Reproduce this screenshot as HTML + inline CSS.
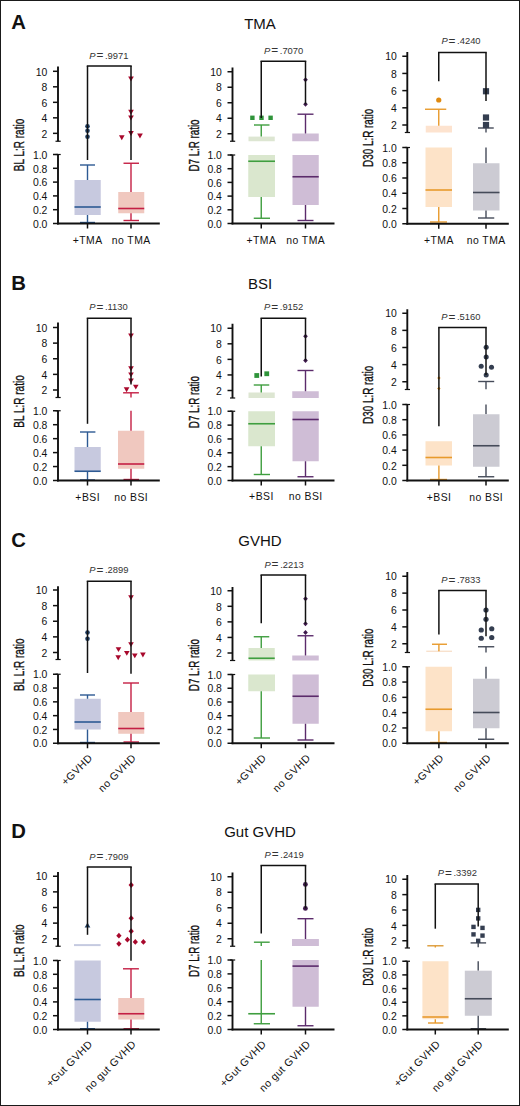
<!DOCTYPE html>
<html><head><meta charset="utf-8"><style>
html,body{margin:0;padding:0;background:#fff;}
svg{display:block;}
text{font-family:"Liberation Sans", sans-serif;}
</style></head><body>
<svg width="520" height="1106" viewBox="0 0 520 1106">
<rect x="0" y="0" width="520" height="1106" fill="#fff"/>
<text x="11.3" y="29" font-size="20.3" font-weight="bold" fill="#111">A</text>
<text x="260" y="28.6" font-size="15" text-anchor="middle" fill="#111">TMA</text>
<text x="11.3" y="289.5" font-size="20.3" font-weight="bold" fill="#111">B</text>
<text x="260" y="289.3" font-size="15" text-anchor="middle" fill="#111">BSI</text>
<text x="11.3" y="546.8" font-size="20.3" font-weight="bold" fill="#111">C</text>
<text x="260" y="546.3" font-size="15" text-anchor="middle" fill="#111">GVHD</text>
<text x="11.3" y="837.8" font-size="20.3" font-weight="bold" fill="#111">D</text>
<text x="260" y="836.9" font-size="15" text-anchor="middle" fill="#111">Gut GVHD</text>
<rect x="74.5" y="180" width="26.25" height="35.00" fill="#c7c9df"/>
<line x1="87.5" y1="165" x2="87.5" y2="180" stroke="#2d5a93" stroke-width="1.4"/>
<line x1="87.5" y1="215" x2="87.5" y2="222.5" stroke="#2d5a93" stroke-width="1.4"/>
<line x1="74.5" y1="207" x2="100.75" y2="207" stroke="#2d5a93" stroke-width="1.6"/>
<line x1="80" y1="165" x2="95" y2="165" stroke="#2d5a93" stroke-width="1.4"/>
<line x1="80" y1="222.5" x2="95" y2="222.5" stroke="#2d5a93" stroke-width="1.4"/>
<rect x="118.25" y="192" width="26.00" height="21.25" fill="#f0c8bf"/>
<line x1="131" y1="163.25" x2="131" y2="192" stroke="#c41f44" stroke-width="1.4"/>
<line x1="131" y1="213.25" x2="131" y2="220.5" stroke="#c41f44" stroke-width="1.4"/>
<line x1="118.25" y1="208.5" x2="144.25" y2="208.5" stroke="#c41f44" stroke-width="1.6"/>
<line x1="123.5" y1="163.25" x2="139" y2="163.25" stroke="#c41f44" stroke-width="1.4"/>
<line x1="123.5" y1="220.5" x2="139" y2="220.5" stroke="#c41f44" stroke-width="1.4"/>
<line x1="58" y1="66.5" x2="58" y2="141.25" stroke="#111" stroke-width="1.9"/>
<line x1="55.5" y1="141.25" x2="60.7" y2="141.25" stroke="#111" stroke-width="1.2"/>
<line x1="53" y1="71.3" x2="58" y2="71.3" stroke="#111" stroke-width="1.5"/>
<text x="47.4" y="75.5" font-size="10.4" text-anchor="end" fill="#111">10</text>
<line x1="53" y1="86.8125" x2="58" y2="86.8125" stroke="#111" stroke-width="1.5"/>
<text x="47.4" y="91.0125" font-size="10.4" text-anchor="end" fill="#111">8</text>
<line x1="53" y1="102.32499999999999" x2="58" y2="102.32499999999999" stroke="#111" stroke-width="1.5"/>
<text x="47.4" y="106.52499999999999" font-size="10.4" text-anchor="end" fill="#111">6</text>
<line x1="53" y1="117.83749999999999" x2="58" y2="117.83749999999999" stroke="#111" stroke-width="1.5"/>
<text x="47.4" y="122.0375" font-size="10.4" text-anchor="end" fill="#111">4</text>
<line x1="53" y1="133.35" x2="58" y2="133.35" stroke="#111" stroke-width="1.5"/>
<text x="47.4" y="137.54999999999998" font-size="10.4" text-anchor="end" fill="#111">2</text>
<line x1="58" y1="154.5" x2="58" y2="224.4" stroke="#111" stroke-width="1.9"/>
<line x1="55.5" y1="154.5" x2="60.7" y2="154.5" stroke="#111" stroke-width="1.2"/>
<line x1="53" y1="154.5" x2="58" y2="154.5" stroke="#111" stroke-width="1.5"/>
<text x="47.4" y="158.7" font-size="10.4" text-anchor="end" fill="#111">1.0</text>
<line x1="53" y1="168.3" x2="58" y2="168.3" stroke="#111" stroke-width="1.5"/>
<text x="47.4" y="172.5" font-size="10.4" text-anchor="end" fill="#111">0.8</text>
<line x1="53" y1="182.1" x2="58" y2="182.1" stroke="#111" stroke-width="1.5"/>
<text x="47.4" y="186.29999999999998" font-size="10.4" text-anchor="end" fill="#111">0.6</text>
<line x1="53" y1="195.9" x2="58" y2="195.9" stroke="#111" stroke-width="1.5"/>
<text x="47.4" y="200.1" font-size="10.4" text-anchor="end" fill="#111">0.4</text>
<line x1="53" y1="209.7" x2="58" y2="209.7" stroke="#111" stroke-width="1.5"/>
<text x="47.4" y="213.89999999999998" font-size="10.4" text-anchor="end" fill="#111">0.2</text>
<line x1="53" y1="223.5" x2="58" y2="223.5" stroke="#111" stroke-width="1.5"/>
<text x="47.4" y="227.7" font-size="10.4" text-anchor="end" fill="#111">0.0</text>
<line x1="57.1" y1="223.5" x2="159.8" y2="223.5" stroke="#111" stroke-width="1.9"/>
<line x1="87.5" y1="223.5" x2="87.5" y2="228.5" stroke="#111" stroke-width="1.5"/>
<line x1="131" y1="223.5" x2="131" y2="228.5" stroke="#111" stroke-width="1.5"/>
<text transform="translate(24,145.0) rotate(-90)" font-size="15" text-anchor="middle" textLength="52.5" lengthAdjust="spacingAndGlyphs" fill="#111" stroke="#111" stroke-width="0.35">BL L:R ratio</text>
<text x="89.30" y="58.9" font-size="9.4" fill="#333"><tspan font-style="italic">P</tspan><tspan font-size="11" dx="1.1" dy="0.55" stroke="#333" stroke-width="0.25">=</tspan><tspan dx="1.9" dy="-0.55">.9971</tspan></text>
<text transform="translate(87.7,244.4) scale(1.03,1)" font-size="10.1" letter-spacing="0.45" text-anchor="middle" fill="#111">+TMA</text>
<text transform="translate(131.2,244.4) scale(1.03,1)" font-size="10.1" letter-spacing="0.45" text-anchor="middle" fill="#111">no TMA</text>
<circle cx="87.5" cy="126.3" r="2.31" fill="#1c3d63"/>
<circle cx="87.5" cy="130.8" r="2.31" fill="#1c3d63"/>
<circle cx="87.5" cy="136.8" r="2.31" fill="#1c3d63"/>
<path d="M128.18 76.59L133.82 76.59L131 81.50Z" fill="#a8082c"/>
<path d="M128.18 109.80L133.82 109.80L131 114.69Z" fill="#a8082c"/>
<path d="M128.18 115.59L133.82 115.59L131 120.50Z" fill="#a8082c"/>
<path d="M128.18 131.09L133.82 131.09L131 136.00Z" fill="#a8082c"/>
<path d="M118.98 135.29L124.62 135.29L121.8 140.19Z" fill="#a8082c"/>
<path d="M137.18 133.59L142.82 133.59L140 138.50Z" fill="#a8082c"/>
<line x1="87.5" y1="65.9" x2="87.5" y2="160" stroke="#111" stroke-width="1.5"/>
<line x1="131" y1="65.9" x2="131" y2="160" stroke="#111" stroke-width="1.5"/>
<line x1="86.75" y1="65.9" x2="131.75" y2="65.9" stroke="#111" stroke-width="1.5"/>
<rect x="248.5" y="136.6" width="26.25" height="4.65" fill="#dde6d2"/>
<line x1="261.25" y1="125" x2="261.25" y2="136.6" stroke="#3f9e3f" stroke-width="1.4"/>
<line x1="254" y1="125" x2="269.5" y2="125" stroke="#3f9e3f" stroke-width="1.4"/>
<rect x="248.25" y="155" width="26.75" height="42.00" fill="#dae7ce"/>
<line x1="248.25" y1="161.25" x2="275" y2="161.25" stroke="#3f9e3f" stroke-width="1.6"/>
<line x1="261.25" y1="197" x2="261.25" y2="218.25" stroke="#3f9e3f" stroke-width="1.4"/>
<line x1="253.75" y1="218.25" x2="270" y2="218.25" stroke="#3f9e3f" stroke-width="1.4"/>
<rect x="292.25" y="133.5" width="26.50" height="7.75" fill="#cfbdd6"/>
<line x1="305.5" y1="114.2" x2="305.5" y2="133.5" stroke="#5b2b6b" stroke-width="1.4"/>
<line x1="297.5" y1="114.2" x2="313.5" y2="114.2" stroke="#5b2b6b" stroke-width="1.4"/>
<rect x="292.5" y="155" width="26.25" height="50.00" fill="#cfbdd6"/>
<line x1="292.5" y1="176.75" x2="318.75" y2="176.75" stroke="#5b2b6b" stroke-width="1.6"/>
<line x1="305.5" y1="205" x2="305.5" y2="220.5" stroke="#5b2b6b" stroke-width="1.4"/>
<line x1="297.5" y1="220.5" x2="313.5" y2="220.5" stroke="#5b2b6b" stroke-width="1.4"/>
<line x1="232.5" y1="67.5" x2="232.5" y2="141.25" stroke="#111" stroke-width="1.9"/>
<line x1="230.0" y1="141.25" x2="235.2" y2="141.25" stroke="#111" stroke-width="1.2"/>
<line x1="227.5" y1="71.75" x2="232.5" y2="71.75" stroke="#111" stroke-width="1.5"/>
<text x="221.9" y="75.95" font-size="10.4" text-anchor="end" fill="#111">10</text>
<line x1="227.5" y1="87.25" x2="232.5" y2="87.25" stroke="#111" stroke-width="1.5"/>
<text x="221.9" y="91.45" font-size="10.4" text-anchor="end" fill="#111">8</text>
<line x1="227.5" y1="102.75" x2="232.5" y2="102.75" stroke="#111" stroke-width="1.5"/>
<text x="221.9" y="106.95" font-size="10.4" text-anchor="end" fill="#111">6</text>
<line x1="227.5" y1="118.25" x2="232.5" y2="118.25" stroke="#111" stroke-width="1.5"/>
<text x="221.9" y="122.45" font-size="10.4" text-anchor="end" fill="#111">4</text>
<line x1="227.5" y1="133.75" x2="232.5" y2="133.75" stroke="#111" stroke-width="1.5"/>
<text x="221.9" y="137.95" font-size="10.4" text-anchor="end" fill="#111">2</text>
<line x1="232.5" y1="155" x2="232.5" y2="224.4" stroke="#111" stroke-width="1.9"/>
<line x1="230.0" y1="155" x2="235.2" y2="155" stroke="#111" stroke-width="1.2"/>
<line x1="227.5" y1="155.0" x2="232.5" y2="155.0" stroke="#111" stroke-width="1.5"/>
<text x="221.9" y="159.2" font-size="10.4" text-anchor="end" fill="#111">1.0</text>
<line x1="227.5" y1="168.7" x2="232.5" y2="168.7" stroke="#111" stroke-width="1.5"/>
<text x="221.9" y="172.89999999999998" font-size="10.4" text-anchor="end" fill="#111">0.8</text>
<line x1="227.5" y1="182.4" x2="232.5" y2="182.4" stroke="#111" stroke-width="1.5"/>
<text x="221.9" y="186.6" font-size="10.4" text-anchor="end" fill="#111">0.6</text>
<line x1="227.5" y1="196.1" x2="232.5" y2="196.1" stroke="#111" stroke-width="1.5"/>
<text x="221.9" y="200.29999999999998" font-size="10.4" text-anchor="end" fill="#111">0.4</text>
<line x1="227.5" y1="209.8" x2="232.5" y2="209.8" stroke="#111" stroke-width="1.5"/>
<text x="221.9" y="214.0" font-size="10.4" text-anchor="end" fill="#111">0.2</text>
<line x1="227.5" y1="223.5" x2="232.5" y2="223.5" stroke="#111" stroke-width="1.5"/>
<text x="221.9" y="227.7" font-size="10.4" text-anchor="end" fill="#111">0.0</text>
<line x1="231.6" y1="223.5" x2="334.5" y2="223.5" stroke="#111" stroke-width="1.9"/>
<line x1="261.25" y1="223.5" x2="261.25" y2="228.5" stroke="#111" stroke-width="1.5"/>
<line x1="305.5" y1="223.5" x2="305.5" y2="228.5" stroke="#111" stroke-width="1.5"/>
<text transform="translate(198.5,145.5) rotate(-90)" font-size="15" text-anchor="middle" textLength="52" lengthAdjust="spacingAndGlyphs" fill="#111" stroke="#111" stroke-width="0.35">D7 L:R ratio</text>
<text x="264.10" y="53.8" font-size="9.4" fill="#333"><tspan font-style="italic">P</tspan><tspan font-size="11" dx="1.1" dy="0.55" stroke="#333" stroke-width="0.25">=</tspan><tspan dx="1.9" dy="-0.55">.7070</tspan></text>
<text transform="translate(261.45,244.10000000000002) scale(1.03,1)" font-size="10.1" letter-spacing="0.45" text-anchor="middle" fill="#111">+TMA</text>
<text transform="translate(305.7,244.10000000000002) scale(1.03,1)" font-size="10.1" letter-spacing="0.45" text-anchor="middle" fill="#111">no TMA</text>
<rect x="250.20" y="115.60" width="4.4" height="4.4" fill="#2f943a"/>
<rect x="259.30" y="115.60" width="4.4" height="4.4" fill="#2f943a"/>
<rect x="268.40" y="115.60" width="4.4" height="4.4" fill="#2f943a"/>
<path d="M305.5 77.18L307.81 79.7L305.5 82.22L303.19 79.7Z" fill="#3f1a4d"/>
<path d="M305.5 101.78L307.81 104.3L305.5 106.82L303.19 104.3Z" fill="#3f1a4d"/>
<line x1="261.25" y1="61.25" x2="261.25" y2="118" stroke="#111" stroke-width="1.5"/>
<line x1="305.5" y1="61.25" x2="305.5" y2="104.3" stroke="#111" stroke-width="1.5"/>
<line x1="260.5" y1="61.25" x2="306.25" y2="61.25" stroke="#111" stroke-width="1.5"/>
<rect x="425.75" y="125.75" width="26.25" height="6.75" fill="#fde3cf"/>
<line x1="438.75" y1="109.25" x2="438.75" y2="125.75" stroke="#e89a2c" stroke-width="1.4"/>
<line x1="425" y1="109.25" x2="446.25" y2="109.25" stroke="#e89a2c" stroke-width="1.4"/>
<rect x="425.5" y="147.5" width="26.50" height="59.50" fill="#fde3c8"/>
<line x1="425.5" y1="190" x2="452" y2="190" stroke="#e89a2c" stroke-width="1.6"/>
<line x1="438.75" y1="207" x2="438.75" y2="222" stroke="#e89a2c" stroke-width="1.4"/>
<line x1="430" y1="222" x2="447" y2="222" stroke="#e89a2c" stroke-width="1.4"/>
<line x1="486" y1="128" x2="486" y2="132.5" stroke="#454b59" stroke-width="1.4"/>
<line x1="478" y1="128" x2="493.75" y2="128" stroke="#454b59" stroke-width="1.4"/>
<line x1="486" y1="147.5" x2="486" y2="163.25" stroke="#454b59" stroke-width="1.4"/>
<rect x="473" y="163.25" width="26.50" height="47.25" fill="#cccbd3"/>
<line x1="473" y1="192.5" x2="499.5" y2="192.5" stroke="#454b59" stroke-width="1.6"/>
<line x1="486" y1="210.5" x2="486" y2="218" stroke="#454b59" stroke-width="1.4"/>
<line x1="478" y1="218" x2="494.25" y2="218" stroke="#454b59" stroke-width="1.4"/>
<line x1="407.3" y1="52" x2="407.3" y2="132.5" stroke="#111" stroke-width="1.9"/>
<line x1="404.8" y1="132.5" x2="410.0" y2="132.5" stroke="#111" stroke-width="1.2"/>
<line x1="402.3" y1="56.25" x2="407.3" y2="56.25" stroke="#111" stroke-width="1.5"/>
<text x="396.7" y="60.45" font-size="10.4" text-anchor="end" fill="#111">10</text>
<line x1="402.3" y1="73.4375" x2="407.3" y2="73.4375" stroke="#111" stroke-width="1.5"/>
<text x="396.7" y="77.6375" font-size="10.4" text-anchor="end" fill="#111">8</text>
<line x1="402.3" y1="90.625" x2="407.3" y2="90.625" stroke="#111" stroke-width="1.5"/>
<text x="396.7" y="94.825" font-size="10.4" text-anchor="end" fill="#111">6</text>
<line x1="402.3" y1="107.8125" x2="407.3" y2="107.8125" stroke="#111" stroke-width="1.5"/>
<text x="396.7" y="112.0125" font-size="10.4" text-anchor="end" fill="#111">4</text>
<line x1="402.3" y1="125.0" x2="407.3" y2="125.0" stroke="#111" stroke-width="1.5"/>
<text x="396.7" y="129.2" font-size="10.4" text-anchor="end" fill="#111">2</text>
<line x1="407.3" y1="147.5" x2="407.3" y2="224.65" stroke="#111" stroke-width="1.9"/>
<line x1="404.8" y1="147.5" x2="410.0" y2="147.5" stroke="#111" stroke-width="1.2"/>
<line x1="402.3" y1="147.5" x2="407.3" y2="147.5" stroke="#111" stroke-width="1.5"/>
<text x="396.7" y="151.7" font-size="10.4" text-anchor="end" fill="#111">1.0</text>
<line x1="402.3" y1="162.75" x2="407.3" y2="162.75" stroke="#111" stroke-width="1.5"/>
<text x="396.7" y="166.95" font-size="10.4" text-anchor="end" fill="#111">0.8</text>
<line x1="402.3" y1="178.0" x2="407.3" y2="178.0" stroke="#111" stroke-width="1.5"/>
<text x="396.7" y="182.2" font-size="10.4" text-anchor="end" fill="#111">0.6</text>
<line x1="402.3" y1="193.25" x2="407.3" y2="193.25" stroke="#111" stroke-width="1.5"/>
<text x="396.7" y="197.45" font-size="10.4" text-anchor="end" fill="#111">0.4</text>
<line x1="402.3" y1="208.5" x2="407.3" y2="208.5" stroke="#111" stroke-width="1.5"/>
<text x="396.7" y="212.7" font-size="10.4" text-anchor="end" fill="#111">0.2</text>
<line x1="402.3" y1="223.75" x2="407.3" y2="223.75" stroke="#111" stroke-width="1.5"/>
<text x="396.7" y="227.95" font-size="10.4" text-anchor="end" fill="#111">0.0</text>
<line x1="406.40000000000003" y1="223.75" x2="508.8" y2="223.75" stroke="#111" stroke-width="1.9"/>
<line x1="438.75" y1="223.75" x2="438.75" y2="228.75" stroke="#111" stroke-width="1.5"/>
<line x1="486" y1="223.75" x2="486" y2="228.75" stroke="#111" stroke-width="1.5"/>
<text transform="translate(373,137.875) rotate(-90)" font-size="15" text-anchor="middle" textLength="58" lengthAdjust="spacingAndGlyphs" fill="#111" stroke="#111" stroke-width="0.35">D30 L:R ratio</text>
<text x="441.40" y="44.25" font-size="9.4" fill="#333"><tspan font-style="italic">P</tspan><tspan font-size="11" dx="1.1" dy="0.55" stroke="#333" stroke-width="0.25">=</tspan><tspan dx="1.9" dy="-0.55">.4240</tspan></text>
<text transform="translate(438.95,244.10000000000002) scale(1.03,1)" font-size="10.1" letter-spacing="0.45" text-anchor="middle" fill="#111">+TMA</text>
<text transform="translate(486.2,244.10000000000002) scale(1.03,1)" font-size="10.1" letter-spacing="0.45" text-anchor="middle" fill="#111">no TMA</text>
<circle cx="438.75" cy="100" r="2.62" fill="#e08a10"/>
<rect x="482.90" y="88.15" width="6.2" height="6.2" fill="#343e50"/>
<rect x="482.90" y="114.40" width="6.2" height="6.2" fill="#343e50"/>
<rect x="482.90" y="121.90" width="6.2" height="6.2" fill="#343e50"/>
<line x1="438.75" y1="52.5" x2="438.75" y2="81.25" stroke="#111" stroke-width="1.5"/>
<line x1="486" y1="52.5" x2="486" y2="101" stroke="#111" stroke-width="1.5"/>
<line x1="438.0" y1="52.5" x2="486.75" y2="52.5" stroke="#111" stroke-width="1.5"/>
<rect x="74.5" y="447" width="26.25" height="24.25" fill="#c7c9df"/>
<line x1="87.5" y1="432" x2="87.5" y2="447" stroke="#2d5a93" stroke-width="1.4"/>
<line x1="87.5" y1="471.25" x2="87.5" y2="480" stroke="#2d5a93" stroke-width="1.4"/>
<line x1="74.5" y1="471.25" x2="100.75" y2="471.25" stroke="#2d5a93" stroke-width="1.6"/>
<line x1="80" y1="432" x2="95.4" y2="432" stroke="#2d5a93" stroke-width="1.4"/>
<line x1="80" y1="480" x2="95" y2="480" stroke="#2d5a93" stroke-width="1.4"/>
<line x1="131" y1="392.8" x2="131" y2="397.5" stroke="#c41f44" stroke-width="1.4"/>
<line x1="123.1" y1="392.8" x2="138.9" y2="392.8" stroke="#c41f44" stroke-width="1.4"/>
<rect x="118" y="430.75" width="26.25" height="38.00" fill="#f0c8bf"/>
<line x1="131" y1="410.75" x2="131" y2="430.75" stroke="#c41f44" stroke-width="1.4"/>
<line x1="131" y1="468.75" x2="131" y2="479.5" stroke="#c41f44" stroke-width="1.4"/>
<line x1="118" y1="464" x2="144.25" y2="464" stroke="#c41f44" stroke-width="1.6"/>
<line x1="123.5" y1="479.5" x2="139" y2="479.5" stroke="#c41f44" stroke-width="1.4"/>
<line x1="58" y1="322.5" x2="58" y2="397.5" stroke="#111" stroke-width="1.9"/>
<line x1="55.5" y1="397.5" x2="60.7" y2="397.5" stroke="#111" stroke-width="1.2"/>
<line x1="53" y1="327.5" x2="58" y2="327.5" stroke="#111" stroke-width="1.5"/>
<text x="47.4" y="331.7" font-size="10.4" text-anchor="end" fill="#111">10</text>
<line x1="53" y1="343.125" x2="58" y2="343.125" stroke="#111" stroke-width="1.5"/>
<text x="47.4" y="347.325" font-size="10.4" text-anchor="end" fill="#111">8</text>
<line x1="53" y1="358.75" x2="58" y2="358.75" stroke="#111" stroke-width="1.5"/>
<text x="47.4" y="362.95" font-size="10.4" text-anchor="end" fill="#111">6</text>
<line x1="53" y1="374.375" x2="58" y2="374.375" stroke="#111" stroke-width="1.5"/>
<text x="47.4" y="378.575" font-size="10.4" text-anchor="end" fill="#111">4</text>
<line x1="53" y1="390.0" x2="58" y2="390.0" stroke="#111" stroke-width="1.5"/>
<text x="47.4" y="394.2" font-size="10.4" text-anchor="end" fill="#111">2</text>
<line x1="58" y1="410.75" x2="58" y2="481.4" stroke="#111" stroke-width="1.9"/>
<line x1="55.5" y1="410.75" x2="60.7" y2="410.75" stroke="#111" stroke-width="1.2"/>
<line x1="53" y1="410.75" x2="58" y2="410.75" stroke="#111" stroke-width="1.5"/>
<text x="47.4" y="414.95" font-size="10.4" text-anchor="end" fill="#111">1.0</text>
<line x1="53" y1="424.7" x2="58" y2="424.7" stroke="#111" stroke-width="1.5"/>
<text x="47.4" y="428.9" font-size="10.4" text-anchor="end" fill="#111">0.8</text>
<line x1="53" y1="438.65" x2="58" y2="438.65" stroke="#111" stroke-width="1.5"/>
<text x="47.4" y="442.84999999999997" font-size="10.4" text-anchor="end" fill="#111">0.6</text>
<line x1="53" y1="452.6" x2="58" y2="452.6" stroke="#111" stroke-width="1.5"/>
<text x="47.4" y="456.8" font-size="10.4" text-anchor="end" fill="#111">0.4</text>
<line x1="53" y1="466.55" x2="58" y2="466.55" stroke="#111" stroke-width="1.5"/>
<text x="47.4" y="470.75" font-size="10.4" text-anchor="end" fill="#111">0.2</text>
<line x1="53" y1="480.5" x2="58" y2="480.5" stroke="#111" stroke-width="1.5"/>
<text x="47.4" y="484.7" font-size="10.4" text-anchor="end" fill="#111">0.0</text>
<line x1="57.1" y1="480.5" x2="159.8" y2="480.5" stroke="#111" stroke-width="1.9"/>
<line x1="87.5" y1="480.5" x2="87.5" y2="485.5" stroke="#111" stroke-width="1.5"/>
<line x1="131" y1="480.5" x2="131" y2="485.5" stroke="#111" stroke-width="1.5"/>
<text transform="translate(24,401.5) rotate(-90)" font-size="15" text-anchor="middle" textLength="52.5" lengthAdjust="spacingAndGlyphs" fill="#111" stroke="#111" stroke-width="0.35">BL L:R ratio</text>
<text x="89.30" y="310" font-size="9.4" fill="#333"><tspan font-style="italic">P</tspan><tspan font-size="11" dx="1.1" dy="0.55" stroke="#333" stroke-width="0.25">=</tspan><tspan dx="1.9" dy="-0.55">.1130</tspan></text>
<text transform="translate(87.7,500.8) scale(1.03,1)" font-size="10.1" letter-spacing="0.45" text-anchor="middle" fill="#111">+BSI</text>
<text transform="translate(131.2,500.8) scale(1.03,1)" font-size="10.1" letter-spacing="0.45" text-anchor="middle" fill="#111">no BSI</text>
<path d="M128.18 333.55L133.82 333.55L131 338.44Z" fill="#a8082c"/>
<path d="M128.18 366.30L133.82 366.30L131 371.19Z" fill="#a8082c"/>
<path d="M128.18 372.40L133.82 372.40L131 377.30Z" fill="#a8082c"/>
<path d="M128.18 378.60L133.82 378.60L131 383.50Z" fill="#a8082c"/>
<path d="M123.78 387.30L129.42 387.30L126.6 392.19Z" fill="#a8082c"/>
<path d="M132.98 384.69L138.62 384.69L135.8 389.59Z" fill="#a8082c"/>
<line x1="87.5" y1="318.25" x2="87.5" y2="423.8" stroke="#111" stroke-width="1.5"/>
<line x1="131" y1="318.25" x2="131" y2="384.6" stroke="#111" stroke-width="1.5"/>
<line x1="86.75" y1="318.25" x2="131.75" y2="318.25" stroke="#111" stroke-width="1.5"/>
<rect x="248.5" y="392.5" width="26.25" height="5.50" fill="#dde6d2"/>
<line x1="261.25" y1="385" x2="261.25" y2="392.5" stroke="#3f9e3f" stroke-width="1.4"/>
<line x1="253.75" y1="385" x2="269.25" y2="385" stroke="#3f9e3f" stroke-width="1.4"/>
<rect x="248.25" y="411.25" width="26.75" height="35.00" fill="#dae7ce"/>
<line x1="248.25" y1="423.75" x2="275" y2="423.75" stroke="#3f9e3f" stroke-width="1.6"/>
<line x1="261.25" y1="446.25" x2="261.25" y2="474.5" stroke="#3f9e3f" stroke-width="1.4"/>
<line x1="253.75" y1="474.5" x2="270" y2="474.5" stroke="#3f9e3f" stroke-width="1.4"/>
<rect x="292.25" y="391.25" width="26.50" height="6.75" fill="#cfbdd6"/>
<line x1="305.5" y1="370.5" x2="305.5" y2="391.25" stroke="#5b2b6b" stroke-width="1.4"/>
<line x1="297.5" y1="370.5" x2="313.5" y2="370.5" stroke="#5b2b6b" stroke-width="1.4"/>
<rect x="292.5" y="411.25" width="26.25" height="50.00" fill="#cfbdd6"/>
<line x1="292.5" y1="419.5" x2="318.75" y2="419.5" stroke="#5b2b6b" stroke-width="1.6"/>
<line x1="305.5" y1="461.25" x2="305.5" y2="476.75" stroke="#5b2b6b" stroke-width="1.4"/>
<line x1="297.5" y1="476.75" x2="313.5" y2="476.75" stroke="#5b2b6b" stroke-width="1.4"/>
<line x1="232.5" y1="323.75" x2="232.5" y2="398" stroke="#111" stroke-width="1.9"/>
<line x1="230.0" y1="398" x2="235.2" y2="398" stroke="#111" stroke-width="1.2"/>
<line x1="227.5" y1="328.25" x2="232.5" y2="328.25" stroke="#111" stroke-width="1.5"/>
<text x="221.9" y="332.45" font-size="10.4" text-anchor="end" fill="#111">10</text>
<line x1="227.5" y1="343.8125" x2="232.5" y2="343.8125" stroke="#111" stroke-width="1.5"/>
<text x="221.9" y="348.0125" font-size="10.4" text-anchor="end" fill="#111">8</text>
<line x1="227.5" y1="359.375" x2="232.5" y2="359.375" stroke="#111" stroke-width="1.5"/>
<text x="221.9" y="363.575" font-size="10.4" text-anchor="end" fill="#111">6</text>
<line x1="227.5" y1="374.9375" x2="232.5" y2="374.9375" stroke="#111" stroke-width="1.5"/>
<text x="221.9" y="379.1375" font-size="10.4" text-anchor="end" fill="#111">4</text>
<line x1="227.5" y1="390.5" x2="232.5" y2="390.5" stroke="#111" stroke-width="1.5"/>
<text x="221.9" y="394.7" font-size="10.4" text-anchor="end" fill="#111">2</text>
<line x1="232.5" y1="411.25" x2="232.5" y2="481.4" stroke="#111" stroke-width="1.9"/>
<line x1="230.0" y1="411.25" x2="235.2" y2="411.25" stroke="#111" stroke-width="1.2"/>
<line x1="227.5" y1="411.25" x2="232.5" y2="411.25" stroke="#111" stroke-width="1.5"/>
<text x="221.9" y="415.45" font-size="10.4" text-anchor="end" fill="#111">1.0</text>
<line x1="227.5" y1="425.1" x2="232.5" y2="425.1" stroke="#111" stroke-width="1.5"/>
<text x="221.9" y="429.3" font-size="10.4" text-anchor="end" fill="#111">0.8</text>
<line x1="227.5" y1="438.95" x2="232.5" y2="438.95" stroke="#111" stroke-width="1.5"/>
<text x="221.9" y="443.15" font-size="10.4" text-anchor="end" fill="#111">0.6</text>
<line x1="227.5" y1="452.8" x2="232.5" y2="452.8" stroke="#111" stroke-width="1.5"/>
<text x="221.9" y="457.0" font-size="10.4" text-anchor="end" fill="#111">0.4</text>
<line x1="227.5" y1="466.65" x2="232.5" y2="466.65" stroke="#111" stroke-width="1.5"/>
<text x="221.9" y="470.84999999999997" font-size="10.4" text-anchor="end" fill="#111">0.2</text>
<line x1="227.5" y1="480.5" x2="232.5" y2="480.5" stroke="#111" stroke-width="1.5"/>
<text x="221.9" y="484.7" font-size="10.4" text-anchor="end" fill="#111">0.0</text>
<line x1="231.6" y1="480.5" x2="334.5" y2="480.5" stroke="#111" stroke-width="1.9"/>
<line x1="261.25" y1="480.5" x2="261.25" y2="485.5" stroke="#111" stroke-width="1.5"/>
<line x1="305.5" y1="480.5" x2="305.5" y2="485.5" stroke="#111" stroke-width="1.5"/>
<text transform="translate(198.5,402.125) rotate(-90)" font-size="15" text-anchor="middle" textLength="52" lengthAdjust="spacingAndGlyphs" fill="#111" stroke="#111" stroke-width="0.35">D7 L:R ratio</text>
<text x="264.10" y="310" font-size="9.4" fill="#333"><tspan font-style="italic">P</tspan><tspan font-size="11" dx="1.1" dy="0.55" stroke="#333" stroke-width="0.25">=</tspan><tspan dx="1.9" dy="-0.55">.9152</tspan></text>
<text transform="translate(261.45,500.40000000000003) scale(1.03,1)" font-size="10.1" letter-spacing="0.45" text-anchor="middle" fill="#111">+BSI</text>
<text transform="translate(305.7,500.40000000000003) scale(1.03,1)" font-size="10.1" letter-spacing="0.45" text-anchor="middle" fill="#111">no BSI</text>
<rect x="254.35" y="373.10" width="4.8" height="4.8" fill="#2f943a"/>
<rect x="264.35" y="371.35" width="4.8" height="4.8" fill="#2f943a"/>
<path d="M305.5 333.73L307.81 336.25L305.5 338.77L303.19 336.25Z" fill="#3f1a4d"/>
<path d="M305.5 357.98L307.81 360.5L305.5 363.02L303.19 360.5Z" fill="#3f1a4d"/>
<line x1="261.25" y1="318.25" x2="261.25" y2="376.5" stroke="#111" stroke-width="1.5"/>
<line x1="305.5" y1="318.25" x2="305.5" y2="360.5" stroke="#111" stroke-width="1.5"/>
<line x1="260.5" y1="318.25" x2="306.25" y2="318.25" stroke="#111" stroke-width="1.5"/>
<rect x="425.5" y="441.25" width="26.50" height="24.25" fill="#fde3c8"/>
<line x1="425.5" y1="457.5" x2="452" y2="457.5" stroke="#e89a2c" stroke-width="1.6"/>
<line x1="438.9" y1="465.5" x2="438.9" y2="479.5" stroke="#e89a2c" stroke-width="1.4"/>
<line x1="430" y1="479.5" x2="447" y2="479.5" stroke="#e89a2c" stroke-width="1.4"/>
<line x1="486" y1="381.5" x2="486" y2="389.25" stroke="#454b59" stroke-width="1.4"/>
<line x1="478.2" y1="381.5" x2="494.2" y2="381.5" stroke="#454b59" stroke-width="1.4"/>
<line x1="486" y1="404.5" x2="486" y2="414.25" stroke="#454b59" stroke-width="1.4"/>
<rect x="473" y="414.25" width="26.50" height="52.50" fill="#cccbd3"/>
<line x1="473" y1="445.75" x2="499.5" y2="445.75" stroke="#454b59" stroke-width="1.6"/>
<line x1="486" y1="466.75" x2="486" y2="476.75" stroke="#454b59" stroke-width="1.4"/>
<line x1="478" y1="476.75" x2="494.25" y2="476.75" stroke="#454b59" stroke-width="1.4"/>
<line x1="407.3" y1="309.25" x2="407.3" y2="389.5" stroke="#111" stroke-width="1.9"/>
<line x1="404.8" y1="389.5" x2="410.0" y2="389.5" stroke="#111" stroke-width="1.2"/>
<line x1="402.3" y1="313.25" x2="407.3" y2="313.25" stroke="#111" stroke-width="1.5"/>
<text x="396.7" y="317.45" font-size="10.4" text-anchor="end" fill="#111">10</text>
<line x1="402.3" y1="330.375" x2="407.3" y2="330.375" stroke="#111" stroke-width="1.5"/>
<text x="396.7" y="334.575" font-size="10.4" text-anchor="end" fill="#111">8</text>
<line x1="402.3" y1="347.5" x2="407.3" y2="347.5" stroke="#111" stroke-width="1.5"/>
<text x="396.7" y="351.7" font-size="10.4" text-anchor="end" fill="#111">6</text>
<line x1="402.3" y1="364.625" x2="407.3" y2="364.625" stroke="#111" stroke-width="1.5"/>
<text x="396.7" y="368.825" font-size="10.4" text-anchor="end" fill="#111">4</text>
<line x1="402.3" y1="381.75" x2="407.3" y2="381.75" stroke="#111" stroke-width="1.5"/>
<text x="396.7" y="385.95" font-size="10.4" text-anchor="end" fill="#111">2</text>
<line x1="407.3" y1="404.5" x2="407.3" y2="481.4" stroke="#111" stroke-width="1.9"/>
<line x1="404.8" y1="404.5" x2="410.0" y2="404.5" stroke="#111" stroke-width="1.2"/>
<line x1="402.3" y1="404.5" x2="407.3" y2="404.5" stroke="#111" stroke-width="1.5"/>
<text x="396.7" y="408.7" font-size="10.4" text-anchor="end" fill="#111">1.0</text>
<line x1="402.3" y1="419.7" x2="407.3" y2="419.7" stroke="#111" stroke-width="1.5"/>
<text x="396.7" y="423.9" font-size="10.4" text-anchor="end" fill="#111">0.8</text>
<line x1="402.3" y1="434.9" x2="407.3" y2="434.9" stroke="#111" stroke-width="1.5"/>
<text x="396.7" y="439.09999999999997" font-size="10.4" text-anchor="end" fill="#111">0.6</text>
<line x1="402.3" y1="450.1" x2="407.3" y2="450.1" stroke="#111" stroke-width="1.5"/>
<text x="396.7" y="454.3" font-size="10.4" text-anchor="end" fill="#111">0.4</text>
<line x1="402.3" y1="465.3" x2="407.3" y2="465.3" stroke="#111" stroke-width="1.5"/>
<text x="396.7" y="469.5" font-size="10.4" text-anchor="end" fill="#111">0.2</text>
<line x1="402.3" y1="480.5" x2="407.3" y2="480.5" stroke="#111" stroke-width="1.5"/>
<text x="396.7" y="484.7" font-size="10.4" text-anchor="end" fill="#111">0.0</text>
<line x1="406.40000000000003" y1="480.5" x2="508.8" y2="480.5" stroke="#111" stroke-width="1.9"/>
<line x1="438.9" y1="480.5" x2="438.9" y2="485.5" stroke="#111" stroke-width="1.5"/>
<line x1="486" y1="480.5" x2="486" y2="485.5" stroke="#111" stroke-width="1.5"/>
<text transform="translate(373,394.875) rotate(-90)" font-size="15" text-anchor="middle" textLength="58" lengthAdjust="spacingAndGlyphs" fill="#111" stroke="#111" stroke-width="0.35">D30 L:R ratio</text>
<text x="441.30" y="320" font-size="9.4" fill="#333"><tspan font-style="italic">P</tspan><tspan font-size="11" dx="1.1" dy="0.55" stroke="#333" stroke-width="0.25">=</tspan><tspan dx="1.9" dy="-0.55">.5160</tspan></text>
<text transform="translate(439.09999999999997,500.8) scale(1.03,1)" font-size="10.1" letter-spacing="0.45" text-anchor="middle" fill="#111">+BSI</text>
<text transform="translate(486.2,500.8) scale(1.03,1)" font-size="10.1" letter-spacing="0.45" text-anchor="middle" fill="#111">no BSI</text>
<path d="M438.9 376.20L440.55 378L438.9 379.80L437.25 378Z" fill="#e08a10"/>
<path d="M438.9 386.70L440.55 388.5L438.9 390.30L437.25 388.5Z" fill="#e08a10"/>
<circle cx="486.2" cy="347.2" r="2.52" fill="#343e50"/>
<circle cx="486.2" cy="356.9" r="2.52" fill="#343e50"/>
<circle cx="481.2" cy="366.2" r="2.52" fill="#343e50"/>
<circle cx="491.5" cy="367.2" r="2.52" fill="#343e50"/>
<circle cx="486.2" cy="374.9" r="2.52" fill="#343e50"/>
<line x1="438.9" y1="327.5" x2="438.9" y2="426.25" stroke="#111" stroke-width="1.5"/>
<line x1="486" y1="327.5" x2="486" y2="374.9" stroke="#111" stroke-width="1.5"/>
<line x1="438.15" y1="327.5" x2="486.75" y2="327.5" stroke="#111" stroke-width="1.5"/>
<rect x="74.5" y="698.75" width="26.25" height="30.75" fill="#c7c9df"/>
<line x1="87.5" y1="695" x2="87.5" y2="698.75" stroke="#2d5a93" stroke-width="1.4"/>
<line x1="87.5" y1="729.5" x2="87.5" y2="742.5" stroke="#2d5a93" stroke-width="1.4"/>
<line x1="74.5" y1="722" x2="100.75" y2="722" stroke="#2d5a93" stroke-width="1.6"/>
<line x1="80" y1="695" x2="95" y2="695" stroke="#2d5a93" stroke-width="1.4"/>
<line x1="80" y1="742.5" x2="95" y2="742.5" stroke="#2d5a93" stroke-width="1.4"/>
<rect x="118.25" y="712" width="26.00" height="21.75" fill="#f0c8bf"/>
<line x1="131" y1="683" x2="131" y2="712" stroke="#c41f44" stroke-width="1.4"/>
<line x1="131" y1="733.75" x2="131" y2="742" stroke="#c41f44" stroke-width="1.4"/>
<line x1="118.25" y1="728.5" x2="144.25" y2="728.5" stroke="#c41f44" stroke-width="1.6"/>
<line x1="123" y1="683" x2="139" y2="683" stroke="#c41f44" stroke-width="1.4"/>
<line x1="123.5" y1="742" x2="139" y2="742" stroke="#c41f44" stroke-width="1.4"/>
<line x1="58" y1="586.25" x2="58" y2="659.5" stroke="#111" stroke-width="1.9"/>
<line x1="55.5" y1="659.5" x2="60.7" y2="659.5" stroke="#111" stroke-width="1.2"/>
<line x1="53" y1="590.0" x2="58" y2="590.0" stroke="#111" stroke-width="1.5"/>
<text x="47.4" y="594.2" font-size="10.4" text-anchor="end" fill="#111">10</text>
<line x1="53" y1="605.625" x2="58" y2="605.625" stroke="#111" stroke-width="1.5"/>
<text x="47.4" y="609.825" font-size="10.4" text-anchor="end" fill="#111">8</text>
<line x1="53" y1="621.25" x2="58" y2="621.25" stroke="#111" stroke-width="1.5"/>
<text x="47.4" y="625.45" font-size="10.4" text-anchor="end" fill="#111">6</text>
<line x1="53" y1="636.875" x2="58" y2="636.875" stroke="#111" stroke-width="1.5"/>
<text x="47.4" y="641.075" font-size="10.4" text-anchor="end" fill="#111">4</text>
<line x1="53" y1="652.5" x2="58" y2="652.5" stroke="#111" stroke-width="1.5"/>
<text x="47.4" y="656.7" font-size="10.4" text-anchor="end" fill="#111">2</text>
<line x1="58" y1="674.25" x2="58" y2="744.15" stroke="#111" stroke-width="1.9"/>
<line x1="55.5" y1="674.25" x2="60.7" y2="674.25" stroke="#111" stroke-width="1.2"/>
<line x1="53" y1="674.25" x2="58" y2="674.25" stroke="#111" stroke-width="1.5"/>
<text x="47.4" y="678.45" font-size="10.4" text-anchor="end" fill="#111">1.0</text>
<line x1="53" y1="688.05" x2="58" y2="688.05" stroke="#111" stroke-width="1.5"/>
<text x="47.4" y="692.25" font-size="10.4" text-anchor="end" fill="#111">0.8</text>
<line x1="53" y1="701.85" x2="58" y2="701.85" stroke="#111" stroke-width="1.5"/>
<text x="47.4" y="706.0500000000001" font-size="10.4" text-anchor="end" fill="#111">0.6</text>
<line x1="53" y1="715.65" x2="58" y2="715.65" stroke="#111" stroke-width="1.5"/>
<text x="47.4" y="719.85" font-size="10.4" text-anchor="end" fill="#111">0.4</text>
<line x1="53" y1="729.45" x2="58" y2="729.45" stroke="#111" stroke-width="1.5"/>
<text x="47.4" y="733.6500000000001" font-size="10.4" text-anchor="end" fill="#111">0.2</text>
<line x1="53" y1="743.25" x2="58" y2="743.25" stroke="#111" stroke-width="1.5"/>
<text x="47.4" y="747.45" font-size="10.4" text-anchor="end" fill="#111">0.0</text>
<line x1="57.1" y1="743.25" x2="159.8" y2="743.25" stroke="#111" stroke-width="1.9"/>
<line x1="87.5" y1="743.25" x2="87.5" y2="748.25" stroke="#111" stroke-width="1.5"/>
<line x1="131" y1="743.25" x2="131" y2="748.25" stroke="#111" stroke-width="1.5"/>
<text transform="translate(24,664.75) rotate(-90)" font-size="15" text-anchor="middle" textLength="52.5" lengthAdjust="spacingAndGlyphs" fill="#111" stroke="#111" stroke-width="0.35">BL L:R ratio</text>
<text x="89.30" y="573.25" font-size="9.4" fill="#333"><tspan font-style="italic">P</tspan><tspan font-size="11" dx="1.1" dy="0.55" stroke="#333" stroke-width="0.25">=</tspan><tspan dx="1.9" dy="-0.55">.2899</tspan></text>
<text transform="translate(93.1,758.65) rotate(-45)" font-size="10.6" letter-spacing="0.4" text-anchor="end" fill="#111">+GVHD</text>
<text transform="translate(136.6,758.65) rotate(-45)" font-size="10.6" letter-spacing="0.4" text-anchor="end" fill="#111">no GVHD</text>
<circle cx="87.5" cy="632.5" r="2.31" fill="#1c3d63"/>
<circle cx="87.5" cy="638.75" r="2.31" fill="#1c3d63"/>
<path d="M128.18 595.29L133.82 595.29L131 600.20Z" fill="#a8082c"/>
<path d="M128.18 642.19L133.82 642.19L131 647.10Z" fill="#a8082c"/>
<path d="M115.68 647.19L121.32 647.19L118.5 652.10Z" fill="#a8082c"/>
<path d="M123.98 650.89L129.62 650.89L126.8 655.80Z" fill="#a8082c"/>
<path d="M115.38 655.29L121.02 655.29L118.2 660.20Z" fill="#a8082c"/>
<path d="M131.98 653.39L137.62 653.39L134.8 658.30Z" fill="#a8082c"/>
<path d="M140.08 652.59L145.72 652.59L142.9 657.50Z" fill="#a8082c"/>
<line x1="87.5" y1="581.25" x2="87.5" y2="673" stroke="#111" stroke-width="1.5"/>
<line x1="131" y1="581.25" x2="131" y2="673.75" stroke="#111" stroke-width="1.5"/>
<line x1="86.75" y1="581.25" x2="131.75" y2="581.25" stroke="#111" stroke-width="1.5"/>
<rect x="248.5" y="648" width="26.25" height="12.50" fill="#dae7ce"/>
<line x1="248.5" y1="658.25" x2="274.75" y2="658.25" stroke="#3f9e3f" stroke-width="1.6"/>
<line x1="261.25" y1="636.75" x2="261.25" y2="648" stroke="#3f9e3f" stroke-width="1.4"/>
<line x1="253.75" y1="636.75" x2="269.25" y2="636.75" stroke="#3f9e3f" stroke-width="1.4"/>
<rect x="248.25" y="674.5" width="26.75" height="16.75" fill="#dae7ce"/>
<line x1="261.25" y1="691.25" x2="261.25" y2="738" stroke="#3f9e3f" stroke-width="1.4"/>
<line x1="253.75" y1="738" x2="270" y2="738" stroke="#3f9e3f" stroke-width="1.4"/>
<rect x="292.25" y="655.5" width="26.50" height="5.00" fill="#cfbdd6"/>
<line x1="305.5" y1="635.75" x2="305.5" y2="655.5" stroke="#5b2b6b" stroke-width="1.4"/>
<line x1="297.5" y1="635.75" x2="313.5" y2="635.75" stroke="#5b2b6b" stroke-width="1.4"/>
<rect x="292.5" y="674.5" width="26.25" height="49.25" fill="#cfbdd6"/>
<line x1="292.5" y1="696.25" x2="318.75" y2="696.25" stroke="#5b2b6b" stroke-width="1.6"/>
<line x1="305.5" y1="723.75" x2="305.5" y2="740" stroke="#5b2b6b" stroke-width="1.4"/>
<line x1="297.5" y1="740" x2="313.5" y2="740" stroke="#5b2b6b" stroke-width="1.4"/>
<line x1="232.5" y1="587" x2="232.5" y2="660.5" stroke="#111" stroke-width="1.9"/>
<line x1="230.0" y1="660.5" x2="235.2" y2="660.5" stroke="#111" stroke-width="1.2"/>
<line x1="227.5" y1="590.75" x2="232.5" y2="590.75" stroke="#111" stroke-width="1.5"/>
<text x="221.9" y="594.95" font-size="10.4" text-anchor="end" fill="#111">10</text>
<line x1="227.5" y1="606.3125" x2="232.5" y2="606.3125" stroke="#111" stroke-width="1.5"/>
<text x="221.9" y="610.5125" font-size="10.4" text-anchor="end" fill="#111">8</text>
<line x1="227.5" y1="621.875" x2="232.5" y2="621.875" stroke="#111" stroke-width="1.5"/>
<text x="221.9" y="626.075" font-size="10.4" text-anchor="end" fill="#111">6</text>
<line x1="227.5" y1="637.4375" x2="232.5" y2="637.4375" stroke="#111" stroke-width="1.5"/>
<text x="221.9" y="641.6375" font-size="10.4" text-anchor="end" fill="#111">4</text>
<line x1="227.5" y1="653.0" x2="232.5" y2="653.0" stroke="#111" stroke-width="1.5"/>
<text x="221.9" y="657.2" font-size="10.4" text-anchor="end" fill="#111">2</text>
<line x1="232.5" y1="674.5" x2="232.5" y2="744.15" stroke="#111" stroke-width="1.9"/>
<line x1="230.0" y1="674.5" x2="235.2" y2="674.5" stroke="#111" stroke-width="1.2"/>
<line x1="227.5" y1="674.5" x2="232.5" y2="674.5" stroke="#111" stroke-width="1.5"/>
<text x="221.9" y="678.7" font-size="10.4" text-anchor="end" fill="#111">1.0</text>
<line x1="227.5" y1="688.25" x2="232.5" y2="688.25" stroke="#111" stroke-width="1.5"/>
<text x="221.9" y="692.45" font-size="10.4" text-anchor="end" fill="#111">0.8</text>
<line x1="227.5" y1="702.0" x2="232.5" y2="702.0" stroke="#111" stroke-width="1.5"/>
<text x="221.9" y="706.2" font-size="10.4" text-anchor="end" fill="#111">0.6</text>
<line x1="227.5" y1="715.75" x2="232.5" y2="715.75" stroke="#111" stroke-width="1.5"/>
<text x="221.9" y="719.95" font-size="10.4" text-anchor="end" fill="#111">0.4</text>
<line x1="227.5" y1="729.5" x2="232.5" y2="729.5" stroke="#111" stroke-width="1.5"/>
<text x="221.9" y="733.7" font-size="10.4" text-anchor="end" fill="#111">0.2</text>
<line x1="227.5" y1="743.25" x2="232.5" y2="743.25" stroke="#111" stroke-width="1.5"/>
<text x="221.9" y="747.45" font-size="10.4" text-anchor="end" fill="#111">0.0</text>
<line x1="231.6" y1="743.25" x2="334.5" y2="743.25" stroke="#111" stroke-width="1.9"/>
<line x1="261.25" y1="743.25" x2="261.25" y2="748.25" stroke="#111" stroke-width="1.5"/>
<line x1="305.5" y1="743.25" x2="305.5" y2="748.25" stroke="#111" stroke-width="1.5"/>
<text transform="translate(198.5,665.125) rotate(-90)" font-size="15" text-anchor="middle" textLength="52" lengthAdjust="spacingAndGlyphs" fill="#111" stroke="#111" stroke-width="0.35">D7 L:R ratio</text>
<text x="264.50" y="567.6" font-size="9.4" fill="#333"><tspan font-style="italic">P</tspan><tspan font-size="11" dx="1.1" dy="0.55" stroke="#333" stroke-width="0.25">=</tspan><tspan dx="1.9" dy="-0.55">.2213</tspan></text>
<text transform="translate(266.85,758.65) rotate(-45)" font-size="10.6" letter-spacing="0.4" text-anchor="end" fill="#111">+GVHD</text>
<text transform="translate(311.1,758.65) rotate(-45)" font-size="10.6" letter-spacing="0.4" text-anchor="end" fill="#111">no GVHD</text>
<path d="M305.5 596.23L307.81 598.75L305.5 601.27L303.19 598.75Z" fill="#3f1a4d"/>
<path d="M305.5 621.23L307.81 623.75L305.5 626.27L303.19 623.75Z" fill="#3f1a4d"/>
<path d="M305.5 629.98L307.81 632.5L305.5 635.02L303.19 632.5Z" fill="#3f1a4d"/>
<line x1="261.25" y1="575" x2="261.25" y2="623.25" stroke="#111" stroke-width="1.5"/>
<line x1="305.5" y1="575" x2="305.5" y2="623.75" stroke="#111" stroke-width="1.5"/>
<line x1="260.5" y1="575" x2="306.25" y2="575" stroke="#111" stroke-width="1.5"/>
<line x1="426.25" y1="651.25" x2="452" y2="651.25" stroke="#f7dcc4" stroke-width="1.2"/>
<line x1="438.9" y1="644.25" x2="438.9" y2="651.25" stroke="#e89a2c" stroke-width="1.4"/>
<line x1="432" y1="644.25" x2="447" y2="644.25" stroke="#e89a2c" stroke-width="1.4"/>
<rect x="425.5" y="666.75" width="26.50" height="64.50" fill="#fde3c8"/>
<line x1="425.5" y1="709.25" x2="452" y2="709.25" stroke="#e89a2c" stroke-width="1.6"/>
<line x1="438.9" y1="731.25" x2="438.9" y2="742.5" stroke="#e89a2c" stroke-width="1.4"/>
<line x1="430" y1="742.5" x2="447" y2="742.5" stroke="#e89a2c" stroke-width="1.4"/>
<line x1="486" y1="646.75" x2="486" y2="652.5" stroke="#454b59" stroke-width="1.4"/>
<line x1="478" y1="646.75" x2="494.25" y2="646.75" stroke="#454b59" stroke-width="1.4"/>
<line x1="486" y1="666.75" x2="486" y2="678.75" stroke="#454b59" stroke-width="1.4"/>
<rect x="473" y="678.75" width="26.50" height="49.50" fill="#cccbd3"/>
<line x1="473" y1="712.5" x2="499.5" y2="712.5" stroke="#454b59" stroke-width="1.6"/>
<line x1="486" y1="728.25" x2="486" y2="739.25" stroke="#454b59" stroke-width="1.4"/>
<line x1="478" y1="739.25" x2="494.25" y2="739.25" stroke="#454b59" stroke-width="1.4"/>
<line x1="407.3" y1="572" x2="407.3" y2="652.5" stroke="#111" stroke-width="1.9"/>
<line x1="404.8" y1="652.5" x2="410.0" y2="652.5" stroke="#111" stroke-width="1.2"/>
<line x1="402.3" y1="576.25" x2="407.3" y2="576.25" stroke="#111" stroke-width="1.5"/>
<text x="396.7" y="580.45" font-size="10.4" text-anchor="end" fill="#111">10</text>
<line x1="402.3" y1="593.125" x2="407.3" y2="593.125" stroke="#111" stroke-width="1.5"/>
<text x="396.7" y="597.325" font-size="10.4" text-anchor="end" fill="#111">8</text>
<line x1="402.3" y1="610.0" x2="407.3" y2="610.0" stroke="#111" stroke-width="1.5"/>
<text x="396.7" y="614.2" font-size="10.4" text-anchor="end" fill="#111">6</text>
<line x1="402.3" y1="626.875" x2="407.3" y2="626.875" stroke="#111" stroke-width="1.5"/>
<text x="396.7" y="631.075" font-size="10.4" text-anchor="end" fill="#111">4</text>
<line x1="402.3" y1="643.75" x2="407.3" y2="643.75" stroke="#111" stroke-width="1.5"/>
<text x="396.7" y="647.95" font-size="10.4" text-anchor="end" fill="#111">2</text>
<line x1="407.3" y1="666.75" x2="407.3" y2="744.15" stroke="#111" stroke-width="1.9"/>
<line x1="404.8" y1="666.75" x2="410.0" y2="666.75" stroke="#111" stroke-width="1.2"/>
<line x1="402.3" y1="666.75" x2="407.3" y2="666.75" stroke="#111" stroke-width="1.5"/>
<text x="396.7" y="670.95" font-size="10.4" text-anchor="end" fill="#111">1.0</text>
<line x1="402.3" y1="682.05" x2="407.3" y2="682.05" stroke="#111" stroke-width="1.5"/>
<text x="396.7" y="686.25" font-size="10.4" text-anchor="end" fill="#111">0.8</text>
<line x1="402.3" y1="697.35" x2="407.3" y2="697.35" stroke="#111" stroke-width="1.5"/>
<text x="396.7" y="701.5500000000001" font-size="10.4" text-anchor="end" fill="#111">0.6</text>
<line x1="402.3" y1="712.65" x2="407.3" y2="712.65" stroke="#111" stroke-width="1.5"/>
<text x="396.7" y="716.85" font-size="10.4" text-anchor="end" fill="#111">0.4</text>
<line x1="402.3" y1="727.95" x2="407.3" y2="727.95" stroke="#111" stroke-width="1.5"/>
<text x="396.7" y="732.1500000000001" font-size="10.4" text-anchor="end" fill="#111">0.2</text>
<line x1="402.3" y1="743.25" x2="407.3" y2="743.25" stroke="#111" stroke-width="1.5"/>
<text x="396.7" y="747.45" font-size="10.4" text-anchor="end" fill="#111">0.0</text>
<line x1="406.40000000000003" y1="743.25" x2="508.8" y2="743.25" stroke="#111" stroke-width="1.9"/>
<line x1="438.9" y1="743.25" x2="438.9" y2="748.25" stroke="#111" stroke-width="1.5"/>
<line x1="486" y1="743.25" x2="486" y2="748.25" stroke="#111" stroke-width="1.5"/>
<text transform="translate(373,657.625) rotate(-90)" font-size="15" text-anchor="middle" textLength="58" lengthAdjust="spacingAndGlyphs" fill="#111" stroke="#111" stroke-width="0.35">D30 L:R ratio</text>
<text x="441.30" y="583" font-size="9.4" fill="#333"><tspan font-style="italic">P</tspan><tspan font-size="11" dx="1.1" dy="0.55" stroke="#333" stroke-width="0.25">=</tspan><tspan dx="1.9" dy="-0.55">.7833</tspan></text>
<text transform="translate(444.5,758.65) rotate(-45)" font-size="10.6" letter-spacing="0.4" text-anchor="end" fill="#111">+GVHD</text>
<text transform="translate(491.6,758.65) rotate(-45)" font-size="10.6" letter-spacing="0.4" text-anchor="end" fill="#111">no GVHD</text>
<circle cx="486" cy="610" r="2.62" fill="#343e50"/>
<circle cx="486" cy="619.25" r="2.62" fill="#343e50"/>
<circle cx="481.25" cy="630" r="2.62" fill="#343e50"/>
<circle cx="491.75" cy="628.75" r="2.62" fill="#343e50"/>
<circle cx="481.25" cy="638.25" r="2.62" fill="#343e50"/>
<circle cx="491.75" cy="637.5" r="2.62" fill="#343e50"/>
<line x1="438.9" y1="590.5" x2="438.9" y2="634.5" stroke="#111" stroke-width="1.5"/>
<line x1="486" y1="590.5" x2="486" y2="636.25" stroke="#111" stroke-width="1.5"/>
<line x1="438.15" y1="590.5" x2="486.75" y2="590.5" stroke="#111" stroke-width="1.5"/>
<line x1="74" y1="945.1" x2="100.6" y2="945.1" stroke="#c5cae0" stroke-width="2.0"/>
<rect x="74.5" y="960.5" width="26.25" height="61.25" fill="#c7c9df"/>
<line x1="87.5" y1="1021.75" x2="87.5" y2="1028.75" stroke="#2d5a93" stroke-width="1.4"/>
<line x1="74.5" y1="999.5" x2="100.75" y2="999.5" stroke="#2d5a93" stroke-width="1.6"/>
<line x1="80" y1="1028.75" x2="95" y2="1028.75" stroke="#2d5a93" stroke-width="1.4"/>
<rect x="118.25" y="998" width="26.00" height="21.50" fill="#f0c8bf"/>
<line x1="131" y1="968.8" x2="131" y2="998" stroke="#c41f44" stroke-width="1.4"/>
<line x1="131" y1="1019.5" x2="131" y2="1028.75" stroke="#c41f44" stroke-width="1.4"/>
<line x1="118.25" y1="1013.75" x2="144.25" y2="1013.75" stroke="#c41f44" stroke-width="1.6"/>
<line x1="123" y1="968.8" x2="138.9" y2="968.8" stroke="#c41f44" stroke-width="1.4"/>
<line x1="123.5" y1="1028.75" x2="139" y2="1028.75" stroke="#c41f44" stroke-width="1.4"/>
<line x1="58" y1="872" x2="58" y2="946.25" stroke="#111" stroke-width="1.9"/>
<line x1="55.5" y1="946.25" x2="60.7" y2="946.25" stroke="#111" stroke-width="1.2"/>
<line x1="53" y1="876.25" x2="58" y2="876.25" stroke="#111" stroke-width="1.5"/>
<text x="47.4" y="880.45" font-size="10.4" text-anchor="end" fill="#111">10</text>
<line x1="53" y1="891.875" x2="58" y2="891.875" stroke="#111" stroke-width="1.5"/>
<text x="47.4" y="896.075" font-size="10.4" text-anchor="end" fill="#111">8</text>
<line x1="53" y1="907.5" x2="58" y2="907.5" stroke="#111" stroke-width="1.5"/>
<text x="47.4" y="911.7" font-size="10.4" text-anchor="end" fill="#111">6</text>
<line x1="53" y1="923.125" x2="58" y2="923.125" stroke="#111" stroke-width="1.5"/>
<text x="47.4" y="927.325" font-size="10.4" text-anchor="end" fill="#111">4</text>
<line x1="53" y1="938.75" x2="58" y2="938.75" stroke="#111" stroke-width="1.5"/>
<text x="47.4" y="942.95" font-size="10.4" text-anchor="end" fill="#111">2</text>
<line x1="58" y1="960.5" x2="58" y2="1030.4" stroke="#111" stroke-width="1.9"/>
<line x1="55.5" y1="960.5" x2="60.7" y2="960.5" stroke="#111" stroke-width="1.2"/>
<line x1="53" y1="960.5" x2="58" y2="960.5" stroke="#111" stroke-width="1.5"/>
<text x="47.4" y="964.7" font-size="10.4" text-anchor="end" fill="#111">1.0</text>
<line x1="53" y1="974.3" x2="58" y2="974.3" stroke="#111" stroke-width="1.5"/>
<text x="47.4" y="978.5" font-size="10.4" text-anchor="end" fill="#111">0.8</text>
<line x1="53" y1="988.1" x2="58" y2="988.1" stroke="#111" stroke-width="1.5"/>
<text x="47.4" y="992.3000000000001" font-size="10.4" text-anchor="end" fill="#111">0.6</text>
<line x1="53" y1="1001.9" x2="58" y2="1001.9" stroke="#111" stroke-width="1.5"/>
<text x="47.4" y="1006.1" font-size="10.4" text-anchor="end" fill="#111">0.4</text>
<line x1="53" y1="1015.7" x2="58" y2="1015.7" stroke="#111" stroke-width="1.5"/>
<text x="47.4" y="1019.9000000000001" font-size="10.4" text-anchor="end" fill="#111">0.2</text>
<line x1="53" y1="1029.5" x2="58" y2="1029.5" stroke="#111" stroke-width="1.5"/>
<text x="47.4" y="1033.7" font-size="10.4" text-anchor="end" fill="#111">0.0</text>
<line x1="57.1" y1="1029.5" x2="159.8" y2="1029.5" stroke="#111" stroke-width="1.9"/>
<line x1="87.5" y1="1029.5" x2="87.5" y2="1034.5" stroke="#111" stroke-width="1.5"/>
<line x1="131" y1="1029.5" x2="131" y2="1034.5" stroke="#111" stroke-width="1.5"/>
<text transform="translate(24,950.75) rotate(-90)" font-size="15" text-anchor="middle" textLength="52.5" lengthAdjust="spacingAndGlyphs" fill="#111" stroke="#111" stroke-width="0.35">BL L:R ratio</text>
<text x="89.30" y="859.5" font-size="9.4" fill="#333"><tspan font-style="italic">P</tspan><tspan font-size="11" dx="1.1" dy="0.55" stroke="#333" stroke-width="0.25">=</tspan><tspan dx="1.9" dy="-0.55">.7909</tspan></text>
<text transform="translate(93.1,1044.9) rotate(-45)" font-size="10.6" letter-spacing="0.4" text-anchor="end" fill="#111">+Gut GVHD</text>
<text transform="translate(136.6,1044.9) rotate(-45)" font-size="10.6" letter-spacing="0.4" text-anchor="end" fill="#111">no gut GVHD</text>
<path d="M84.62 927.55L90.38 927.55L87.5 922.55Z" fill="#1c3d63"/>
<path d="M131.2 882.12L133.84 885L131.2 887.88L128.56 885Z" fill="#a8082c"/>
<path d="M131.2 915.32L133.84 918.2L131.2 921.08L128.56 918.2Z" fill="#a8082c"/>
<path d="M131.2 928.32L133.84 931.2L131.2 934.08L128.56 931.2Z" fill="#a8082c"/>
<path d="M118.9 932.82L121.54 935.7L118.9 938.58L116.26 935.7Z" fill="#a8082c"/>
<path d="M127.4 936.82L130.04 939.7L127.4 942.58L124.76 939.7Z" fill="#a8082c"/>
<path d="M118.9 940.92L121.54 943.8L118.9 946.68L116.26 943.8Z" fill="#a8082c"/>
<path d="M135.3 939.02L137.94 941.9L135.3 944.78L132.66 941.9Z" fill="#a8082c"/>
<path d="M143.4 939.02L146.04 941.9L143.4 944.78L140.76 941.9Z" fill="#a8082c"/>
<line x1="87.5" y1="867" x2="87.5" y2="934.8" stroke="#111" stroke-width="1.5"/>
<line x1="131" y1="867" x2="131" y2="960.7" stroke="#111" stroke-width="1.5"/>
<line x1="86.75" y1="867" x2="131.75" y2="867" stroke="#111" stroke-width="1.5"/>
<line x1="261.25" y1="942.2" x2="261.25" y2="946" stroke="#3f9e3f" stroke-width="1.4"/>
<line x1="253.9" y1="942.2" x2="269.7" y2="942.2" stroke="#3f9e3f" stroke-width="1.4"/>
<line x1="261.25" y1="960" x2="261.25" y2="1023.75" stroke="#3f9e3f" stroke-width="1.4"/>
<line x1="248.25" y1="1013.75" x2="275" y2="1013.75" stroke="#3f9e3f" stroke-width="1.6"/>
<line x1="253.75" y1="1023.75" x2="270" y2="1023.75" stroke="#3f9e3f" stroke-width="1.4"/>
<rect x="292" y="939" width="26.90" height="7.00" fill="#cfbdd6"/>
<line x1="305.5" y1="918.7" x2="305.5" y2="939" stroke="#5b2b6b" stroke-width="1.4"/>
<line x1="297.5" y1="918.7" x2="313.5" y2="918.7" stroke="#5b2b6b" stroke-width="1.4"/>
<rect x="292.5" y="960" width="26.25" height="46.75" fill="#cfbdd6"/>
<line x1="292.5" y1="966.1" x2="318.75" y2="966.1" stroke="#5b2b6b" stroke-width="1.6"/>
<line x1="305.5" y1="1006.75" x2="305.5" y2="1025.75" stroke="#5b2b6b" stroke-width="1.4"/>
<line x1="297.5" y1="1025.75" x2="313.5" y2="1025.75" stroke="#5b2b6b" stroke-width="1.4"/>
<line x1="232.5" y1="872.5" x2="232.5" y2="946.25" stroke="#111" stroke-width="1.9"/>
<line x1="230.0" y1="946.25" x2="235.2" y2="946.25" stroke="#111" stroke-width="1.2"/>
<line x1="227.5" y1="876.75" x2="232.5" y2="876.75" stroke="#111" stroke-width="1.5"/>
<text x="221.9" y="880.95" font-size="10.4" text-anchor="end" fill="#111">10</text>
<line x1="227.5" y1="892.25" x2="232.5" y2="892.25" stroke="#111" stroke-width="1.5"/>
<text x="221.9" y="896.45" font-size="10.4" text-anchor="end" fill="#111">8</text>
<line x1="227.5" y1="907.75" x2="232.5" y2="907.75" stroke="#111" stroke-width="1.5"/>
<text x="221.9" y="911.95" font-size="10.4" text-anchor="end" fill="#111">6</text>
<line x1="227.5" y1="923.25" x2="232.5" y2="923.25" stroke="#111" stroke-width="1.5"/>
<text x="221.9" y="927.45" font-size="10.4" text-anchor="end" fill="#111">4</text>
<line x1="227.5" y1="938.75" x2="232.5" y2="938.75" stroke="#111" stroke-width="1.5"/>
<text x="221.9" y="942.95" font-size="10.4" text-anchor="end" fill="#111">2</text>
<line x1="232.5" y1="960" x2="232.5" y2="1030.4" stroke="#111" stroke-width="1.9"/>
<line x1="230.0" y1="960" x2="235.2" y2="960" stroke="#111" stroke-width="1.2"/>
<line x1="227.5" y1="960.0" x2="232.5" y2="960.0" stroke="#111" stroke-width="1.5"/>
<text x="221.9" y="964.2" font-size="10.4" text-anchor="end" fill="#111">1.0</text>
<line x1="227.5" y1="973.9" x2="232.5" y2="973.9" stroke="#111" stroke-width="1.5"/>
<text x="221.9" y="978.1" font-size="10.4" text-anchor="end" fill="#111">0.8</text>
<line x1="227.5" y1="987.8" x2="232.5" y2="987.8" stroke="#111" stroke-width="1.5"/>
<text x="221.9" y="992.0" font-size="10.4" text-anchor="end" fill="#111">0.6</text>
<line x1="227.5" y1="1001.7" x2="232.5" y2="1001.7" stroke="#111" stroke-width="1.5"/>
<text x="221.9" y="1005.9000000000001" font-size="10.4" text-anchor="end" fill="#111">0.4</text>
<line x1="227.5" y1="1015.6" x2="232.5" y2="1015.6" stroke="#111" stroke-width="1.5"/>
<text x="221.9" y="1019.8000000000001" font-size="10.4" text-anchor="end" fill="#111">0.2</text>
<line x1="227.5" y1="1029.5" x2="232.5" y2="1029.5" stroke="#111" stroke-width="1.5"/>
<text x="221.9" y="1033.7" font-size="10.4" text-anchor="end" fill="#111">0.0</text>
<line x1="231.6" y1="1029.5" x2="334.5" y2="1029.5" stroke="#111" stroke-width="1.9"/>
<line x1="261.25" y1="1029.5" x2="261.25" y2="1034.5" stroke="#111" stroke-width="1.5"/>
<line x1="305.5" y1="1029.5" x2="305.5" y2="1034.5" stroke="#111" stroke-width="1.5"/>
<text transform="translate(198.5,951.0) rotate(-90)" font-size="15" text-anchor="middle" textLength="52" lengthAdjust="spacingAndGlyphs" fill="#111" stroke="#111" stroke-width="0.35">D7 L:R ratio</text>
<text x="264.60" y="857.9" font-size="9.4" fill="#333"><tspan font-style="italic">P</tspan><tspan font-size="11" dx="1.1" dy="0.55" stroke="#333" stroke-width="0.25">=</tspan><tspan dx="1.9" dy="-0.55">.2419</tspan></text>
<text transform="translate(266.85,1044.9) rotate(-45)" font-size="10.6" letter-spacing="0.4" text-anchor="end" fill="#111">+Gut GVHD</text>
<text transform="translate(311.1,1044.9) rotate(-45)" font-size="10.6" letter-spacing="0.4" text-anchor="end" fill="#111">no gut GVHD</text>
<circle cx="305.4" cy="884.4" r="2.42" fill="#3f1a4d"/>
<circle cx="305.4" cy="908.4" r="2.42" fill="#3f1a4d"/>
<line x1="261.25" y1="865.5" x2="261.25" y2="933.4" stroke="#111" stroke-width="1.5"/>
<line x1="305.5" y1="865.5" x2="305.5" y2="908.4" stroke="#111" stroke-width="1.5"/>
<line x1="260.5" y1="865.5" x2="306.25" y2="865.5" stroke="#111" stroke-width="1.5"/>
<line x1="427.3" y1="945.8" x2="443.5" y2="945.8" stroke="#d9932a" stroke-width="1.3"/>
<line x1="435.3" y1="945.8" x2="435.3" y2="945.8" stroke="#d9932a" stroke-width="1"/>
<line x1="435.3" y1="945.8" x2="435.3" y2="947.5" stroke="#e89a2c" stroke-width="1.4"/>
<rect x="422.4" y="961.25" width="26.10" height="58.00" fill="#fde3c8"/>
<line x1="422.4" y1="1017" x2="448.5" y2="1017" stroke="#e89a2c" stroke-width="1.6"/>
<line x1="435.3" y1="1019.25" x2="435.3" y2="1023" stroke="#e89a2c" stroke-width="1.4"/>
<line x1="428" y1="1023" x2="443.25" y2="1023" stroke="#e89a2c" stroke-width="1.4"/>
<line x1="478.2" y1="942.9" x2="478.2" y2="947.3" stroke="#454b59" stroke-width="1.4"/>
<line x1="470.6" y1="942.9" x2="486.1" y2="942.9" stroke="#454b59" stroke-width="1.4"/>
<line x1="478.2" y1="961.25" x2="478.2" y2="970.7" stroke="#454b59" stroke-width="1.4"/>
<rect x="464.8" y="970.7" width="27.00" height="45.05" fill="#cccbd3"/>
<line x1="464.8" y1="998.75" x2="491.8" y2="998.75" stroke="#454b59" stroke-width="1.6"/>
<line x1="478.2" y1="1015.75" x2="478.2" y2="1028.75" stroke="#454b59" stroke-width="1.4"/>
<line x1="470.6" y1="1028.75" x2="486.1" y2="1028.75" stroke="#454b59" stroke-width="1.4"/>
<line x1="407.3" y1="875" x2="407.3" y2="948" stroke="#111" stroke-width="1.9"/>
<line x1="404.8" y1="948" x2="410.0" y2="948" stroke="#111" stroke-width="1.2"/>
<line x1="402.3" y1="879.25" x2="407.3" y2="879.25" stroke="#111" stroke-width="1.5"/>
<text x="396.7" y="883.45" font-size="10.4" text-anchor="end" fill="#111">10</text>
<line x1="402.3" y1="894.625" x2="407.3" y2="894.625" stroke="#111" stroke-width="1.5"/>
<text x="396.7" y="898.825" font-size="10.4" text-anchor="end" fill="#111">8</text>
<line x1="402.3" y1="910.0" x2="407.3" y2="910.0" stroke="#111" stroke-width="1.5"/>
<text x="396.7" y="914.2" font-size="10.4" text-anchor="end" fill="#111">6</text>
<line x1="402.3" y1="925.375" x2="407.3" y2="925.375" stroke="#111" stroke-width="1.5"/>
<text x="396.7" y="929.575" font-size="10.4" text-anchor="end" fill="#111">4</text>
<line x1="402.3" y1="940.75" x2="407.3" y2="940.75" stroke="#111" stroke-width="1.5"/>
<text x="396.7" y="944.95" font-size="10.4" text-anchor="end" fill="#111">2</text>
<line x1="407.3" y1="961.25" x2="407.3" y2="1030.4" stroke="#111" stroke-width="1.9"/>
<line x1="404.8" y1="961.25" x2="410.0" y2="961.25" stroke="#111" stroke-width="1.2"/>
<line x1="402.3" y1="961.25" x2="407.3" y2="961.25" stroke="#111" stroke-width="1.5"/>
<text x="396.7" y="965.45" font-size="10.4" text-anchor="end" fill="#111">1.0</text>
<line x1="402.3" y1="974.9" x2="407.3" y2="974.9" stroke="#111" stroke-width="1.5"/>
<text x="396.7" y="979.1" font-size="10.4" text-anchor="end" fill="#111">0.8</text>
<line x1="402.3" y1="988.55" x2="407.3" y2="988.55" stroke="#111" stroke-width="1.5"/>
<text x="396.7" y="992.75" font-size="10.4" text-anchor="end" fill="#111">0.6</text>
<line x1="402.3" y1="1002.2" x2="407.3" y2="1002.2" stroke="#111" stroke-width="1.5"/>
<text x="396.7" y="1006.4000000000001" font-size="10.4" text-anchor="end" fill="#111">0.4</text>
<line x1="402.3" y1="1015.85" x2="407.3" y2="1015.85" stroke="#111" stroke-width="1.5"/>
<text x="396.7" y="1020.0500000000001" font-size="10.4" text-anchor="end" fill="#111">0.2</text>
<line x1="402.3" y1="1029.5" x2="407.3" y2="1029.5" stroke="#111" stroke-width="1.5"/>
<text x="396.7" y="1033.7" font-size="10.4" text-anchor="end" fill="#111">0.0</text>
<line x1="406.40000000000003" y1="1029.5" x2="508.8" y2="1029.5" stroke="#111" stroke-width="1.9"/>
<line x1="435.3" y1="1029.5" x2="435.3" y2="1034.5" stroke="#111" stroke-width="1.5"/>
<line x1="478.2" y1="1029.5" x2="478.2" y2="1034.5" stroke="#111" stroke-width="1.5"/>
<text transform="translate(373,956.8) rotate(-90)" font-size="15" text-anchor="middle" textLength="58" lengthAdjust="spacingAndGlyphs" fill="#111" stroke="#111" stroke-width="0.35">D30 L:R ratio</text>
<text x="437.80" y="876.25" font-size="9.4" fill="#333"><tspan font-style="italic">P</tspan><tspan font-size="11" dx="1.1" dy="0.55" stroke="#333" stroke-width="0.25">=</tspan><tspan dx="1.9" dy="-0.55">.3392</tspan></text>
<text transform="translate(440.90000000000003,1044.9) rotate(-45)" font-size="10.6" letter-spacing="0.4" text-anchor="end" fill="#111">+Gut GVHD</text>
<text transform="translate(483.8,1044.9) rotate(-45)" font-size="10.6" letter-spacing="0.4" text-anchor="end" fill="#111">no gut GVHD</text>
<rect x="476.00" y="907.70" width="4.4" height="4.4" fill="#343e50"/>
<rect x="476.00" y="916.20" width="4.4" height="4.4" fill="#343e50"/>
<rect x="471.30" y="924.70" width="4.4" height="4.4" fill="#343e50"/>
<rect x="480.30" y="925.70" width="4.4" height="4.4" fill="#343e50"/>
<rect x="471.30" y="932.20" width="4.4" height="4.4" fill="#343e50"/>
<rect x="480.30" y="933.40" width="4.4" height="4.4" fill="#343e50"/>
<rect x="476.00" y="938.60" width="4.4" height="4.4" fill="#343e50"/>
<line x1="435.3" y1="884.1" x2="435.3" y2="928.7" stroke="#111" stroke-width="1.5"/>
<line x1="478.2" y1="884.1" x2="478.2" y2="926.6" stroke="#111" stroke-width="1.5"/>
<line x1="434.55" y1="884.1" x2="478.95" y2="884.1" stroke="#111" stroke-width="1.5"/>
<rect x="0.5" y="0.5" width="519" height="1105" fill="none" stroke="#1a1a1a" stroke-width="1"/>
</svg>
</body></html>
